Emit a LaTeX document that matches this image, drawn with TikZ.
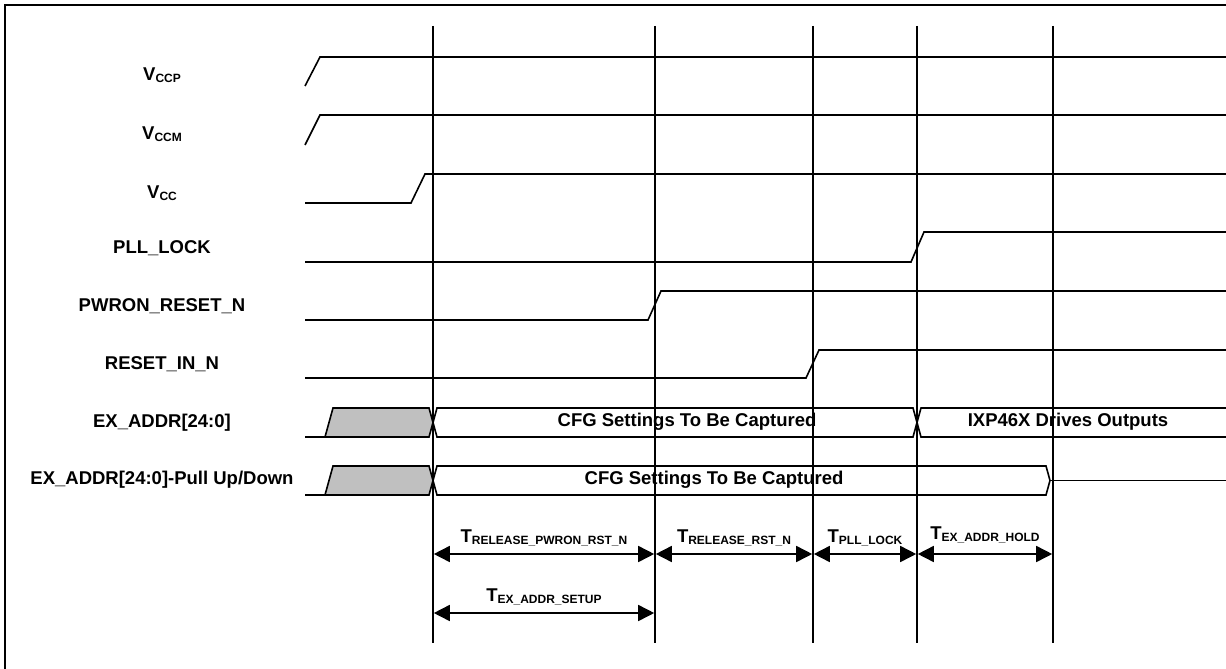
\documentclass[tikz,border=0pt]{standalone}
\usepackage{fontspec}
\setmainfont{Liberation Sans}
\usepackage{xcolor}
\usepackage{tikz}
\usetikzlibrary{arrows.meta, positioning}

\definecolor{busgray}{HTML}{C0C0C0}
\newcommand{\tsub}[2]{#1\raisebox{-2.5pt}{\fontsize{12}{12}\selectfont #2}}

\begin{document}
\begin{tikzpicture}[x=1pt, y=-1pt, line join=miter]
\tikzstyle{siglabel} = [font=\fontsize{18.5}{20}\selectfont\bfseries, inner sep=0pt]
\tikzstyle{wave} = [draw, line width=1.6pt]
\tikzstyle{grid} = [draw, line width=1.6pt]
\tikzstyle{dim} = [draw, line width=1.6pt, {Triangle[length=16pt,width=16pt]}-{Triangle[length=16pt,width=16pt]}, shorten <=0.8pt, shorten >=0.8pt]
\tikzstyle{dimlabel} = [font=\fontsize{18.5}{20}\selectfont\bfseries, inner sep=0pt, above=7pt]

\useasboundingbox (0,0) rectangle (1226,669);
\draw [line width=2.4pt] (5,5) rectangle (1240,680);

% signal names
\node [siglabel] (vccp) at (162,75) {\tsub{V}{CCP}};
\node [siglabel] (vccm) at (162,134) {\tsub{V}{CCM}};
\node [siglabel] (vcc) at (162,193) {\tsub{V}{CC}};
\node [siglabel] (plllock) at (162,248) {PLL\_LOCK};
\node [siglabel] (pwron) at (162,306) {PWRON\_RESET\_N};
\node [siglabel] (resetin) at (162,364) {RESET\_IN\_N};
\node [siglabel] (exaddr) at (162,423) {EX\_ADDR[24:0]};
\node [siglabel] (exaddrpull) at (162,480) {EX\_ADDR[24:0]-Pull Up/Down};

% time markers
\coordinate (t0) at (433,26);
\coordinate (t1) at (655,26);
\coordinate (t2) at (813,26);
\coordinate (t3) at (917,26);
\coordinate (t4) at (1053,26);
\draw [grid] (t0) -- (433,643);
\draw [grid] (t1) -- (655,643);
\draw [grid] (t2) -- (813,643);
\draw [grid] (t3) -- (917,643);
\draw [grid] (t4) -- (1053,643);

% waveforms
\draw [wave] (305,86) -- (320,57) -- (1226,57);
\draw [wave] (305,145) -- (320,115) -- (1226,115);
\draw [wave] (305,203) -- (411,203) -- (425,174) -- (1226,174);
\draw [wave] (305,262) -- (911,262) -- (924,232) -- (1226,232);
\draw [wave] (305,320) -- (648,320) -- (661,291) -- (1226,291);
\draw [wave] (305,378) -- (806,378) -- (819,350) -- (1226,350);

% EX_ADDR bus
\draw [wave] (305,437) -- (325,437);
\draw [wave, fill=busgray] (325,437) -- (333,408) -- (429,408) -- (433,422.5) -- (429,437) -- cycle;
\draw [wave] (433,422.5) -- (437,408) -- (913,408) -- (917,422.5) -- (913,437) -- (437,437) -- cycle;
\draw [wave] (1226,408) -- (921,408) -- (917,422.5) -- (921,437) -- (1226,437);
\node [siglabel] (cfg) at (687,422) {CFG Settings To Be Captured};
\node [siglabel] (drives) at (1068,422) {IXP46X Drives Outputs};

% EX_ADDR pull up/down bus
\draw [wave] (305,495) -- (325,495);
\draw [wave, fill=busgray] (325,495) -- (333,466) -- (429,466) -- (433,480.5) -- (429,495) -- cycle;
\draw [wave] (433,480.5) -- (437,466) -- (1046,466) -- (1050,480.5) -- (1046,495) -- (437,495) -- cycle;
\draw [wave] (1050,480.5) -- (1226,480.5);
\node [siglabel] (cfgpull) at (714,480) {CFG Settings To Be Captured};

% timing parameters
\coordinate (a0) at (433,554);
\coordinate (a1) at (655,554);
\coordinate (a2) at (813,554);
\coordinate (a3) at (917,554);
\coordinate (a4) at (1053,554);
\coordinate (b0) at (433,613);
\coordinate (b1) at (655,613);
\draw [dim] (a0) -- node [dimlabel] {\tsub{T}{RELEASE\_PWRON\_RST\_N}} (a1);
\draw [dim] (a1) -- node [dimlabel] {\tsub{T}{RELEASE\_RST\_N}} (a2);
\draw [dim] (a2) -- node [dimlabel] {\tsub{T}{PLL\_LOCK}} (a3);
\draw [dim] (a3) -- node [dimlabel, above=10pt] {\tsub{T}{EX\_ADDR\_HOLD}} (a4);
\draw [dim] (b0) -- node [dimlabel] {\tsub{T}{EX\_ADDR\_SETUP}} (b1);
\end{tikzpicture}
\end{document}
